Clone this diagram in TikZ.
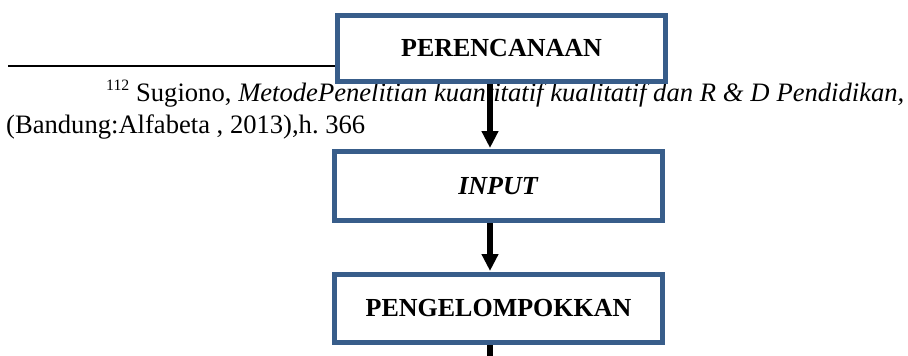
\documentclass[tikz,border=0pt]{standalone}
\usepackage{fontspec}
\setmainfont{Liberation Serif}
\usetikzlibrary{arrows.meta}
\definecolor{boxblue}{HTML}{385D8A}
\frenchspacing
\begin{document}
\begin{tikzpicture}[x=1pt,y=-1pt,
  stepbox/.style={draw=boxblue,line width=5pt,fill=white,minimum width=328pt,inner sep=0pt,
    font=\fontsize{26}{30}\selectfont\bfseries},
  arr/.style={line width=5.5pt,-{Triangle[width=16pt,length=17pt]}},
  shaft/.style={line width=5.5pt},
  fn/.style={inner sep=0pt,font=\fontsize{26.6}{31}\selectfont}]
\useasboundingbox (0,0) rectangle (908,356);
% footnote rule and text
\coordinate (r1) at (8,65.8);
\coordinate (r2) at (380,65.8);
\draw[line width=1.6pt] (r1) -- (r2);
\node[fn,anchor=base west] (fn1) at (106,101) {\makebox[798pt][s]{{\fontsize{15.8}{15}\selectfont\raisebox{10.5pt}{112}} Sugiono, \textit{MetodePenelitian kuantitatif kualitatif dan R \& D Pendidikan,}}};
\node[fn,anchor=base west] (fn2) at (6,133) {(Bandung:Alfabeta , 2013),h. 366};
% boxes
\node[stepbox,minimum height=66pt] (b1) at (501.5,48.5) {PERENCANAAN};
\node[stepbox,minimum height=69pt] (b2) at (498.5,186) {\textit{INPUT}};
\node[stepbox,minimum height=68pt] (b3) at (498.5,308.5) {PENGELOMPOKKAN};
% connectors
\coordinate (spine) at (490,0);
\coordinate (out) at (490,370);
\draw[arr] (b1.south -| spine) -- ([yshift=1pt]b2.north -| spine);
\draw[arr] (b2.south -| spine) -- ([yshift=1pt]b3.north -| spine);
\draw[shaft] (b3.south -| spine) -- (out);
\end{tikzpicture}
\end{document}
